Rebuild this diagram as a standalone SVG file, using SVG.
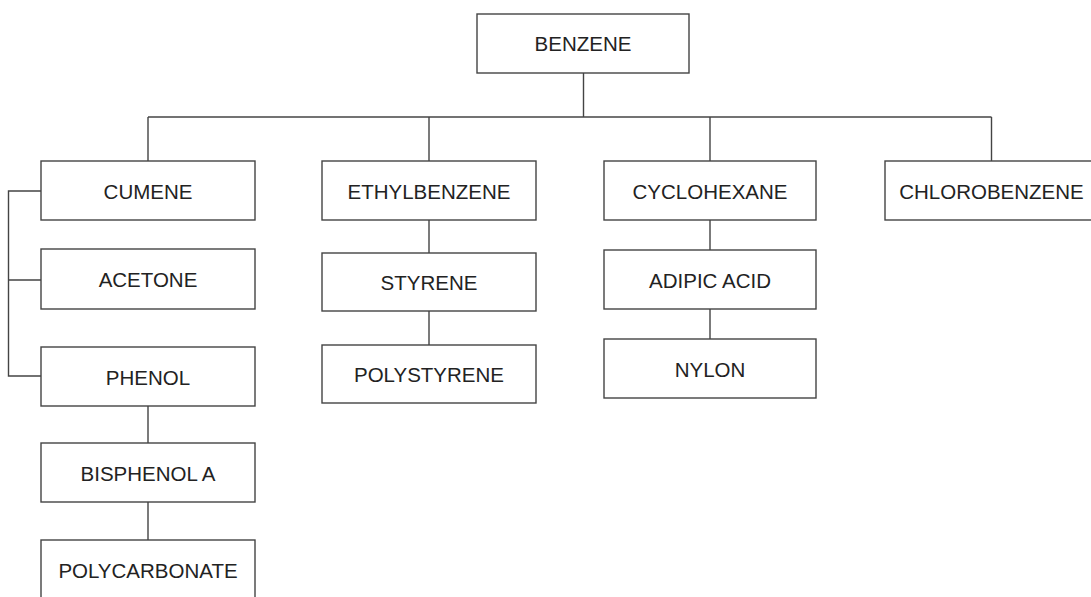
<svg xmlns="http://www.w3.org/2000/svg" width="1091" height="597" viewBox="0 0 1091 597">
<style>
.box{fill:#fff;stroke:#444;stroke-width:1.4}
.lbl{font-family:"Liberation Sans",Arial,sans-serif;font-size:20.5px;fill:#222;text-anchor:middle}
.conn{fill:none;stroke:#444;stroke-width:1.4}
</style>
<rect width="1091" height="597" fill="#fff"/>
<g id="connectors" class="conn">
<path d="M583.5 73 V117"/>
<path d="M148 117 H991.5"/>
<path d="M148 117 V161 M429 117 V161 M710 117 V161 M991.5 117 V161"/>
<path d="M41 191 H8.5 V376 H41 M8.5 280 H41"/>
<path d="M148 406 V443 M148 502 V540"/>
<path d="M429 220 V253 M429 311 V345"/>
<path d="M710 220 V250 M710 309 V339"/>
</g>
<g id="benzene"><rect class="box" x="477" y="14" width="212" height="59"/><text class="lbl" x="583" y="51">BENZENE</text></g>
<g id="cumene"><rect class="box" x="41" y="161" width="214" height="59"/><text class="lbl" x="148" y="198.5">CUMENE</text></g>
<g id="ethylbenzene"><rect class="box" x="322" y="161" width="214" height="59"/><text class="lbl" x="429" y="198.5">ETHYLBENZENE</text></g>
<g id="cyclohexane"><rect class="box" x="604" y="161" width="212" height="59"/><text class="lbl" x="710" y="198.5">CYCLOHEXANE</text></g>
<g id="chlorobenzene"><rect class="box" x="885" y="161" width="213" height="59"/><text class="lbl" x="991.5" y="198.5">CHLOROBENZENE</text></g>
<g id="acetone"><rect class="box" x="41" y="249" width="214" height="60"/><text class="lbl" x="148" y="287">ACETONE</text></g>
<g id="phenol"><rect class="box" x="41" y="347" width="214" height="59"/><text class="lbl" x="148" y="384.5">PHENOL</text></g>
<g id="bisphenol-a"><rect class="box" x="41" y="443" width="214" height="59"/><text class="lbl" x="148" y="480.5">BISPHENOL A</text></g>
<g id="polycarbonate"><rect class="box" x="41" y="540" width="214" height="59"/><text class="lbl" x="148" y="577.5">POLYCARBONATE</text></g>
<g id="styrene"><rect class="box" x="322" y="253" width="214" height="58"/><text class="lbl" x="429" y="290">STYRENE</text></g>
<g id="polystyrene"><rect class="box" x="322" y="345" width="214" height="58"/><text class="lbl" x="429" y="382">POLYSTYRENE</text></g>
<g id="adipic-acid"><rect class="box" x="604" y="250" width="212" height="59"/><text class="lbl" x="710" y="287.5">ADIPIC ACID</text></g>
<g id="nylon"><rect class="box" x="604" y="339" width="212" height="59"/><text class="lbl" x="710" y="376.5">NYLON</text></g>
</svg>
